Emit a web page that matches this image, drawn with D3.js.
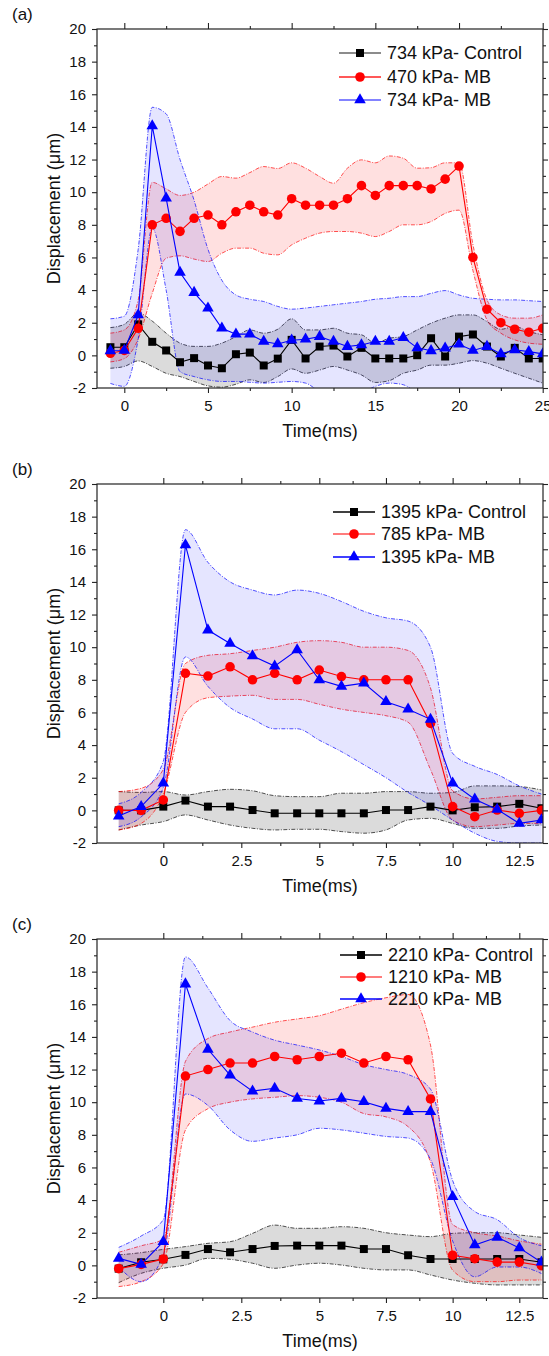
<!DOCTYPE html>
<html>
<head>
<meta charset="utf-8">
<script src="https://cdn.jsdelivr.net/npm/d3@7"></script>
<style>
  body { margin: 0; background: #fff; }
  svg text { font-family: "Liberation Sans", Arial, sans-serif; fill: #111; }
</style>
</head>
<body>
<svg id="chart" width="549" height="1356"></svg>
<script>
// ---------- data ----------
const timesA = [-0.83, 0, 0.83, 1.67, 2.5, 3.33, 4.17, 5, 5.83, 6.67, 7.5, 8.33, 9.17, 10, 10.83, 11.67,
  12.5, 13.33, 14.17, 15, 15.83, 16.67, 17.5, 18.33, 19.17, 20, 20.83, 21.67, 22.5, 23.33, 24.17, 25];
const ctrlA   = [0.5, 0.5, 1.9, 0.83, 0.3, -0.42, -0.17, -0.62, -0.79, 0.07, 0.17, -0.62, -0.2, 0.95, -0.19, 0.54,
  0.6, -0.07, 0.46, -0.19, -0.19, -0.19, 0.01, 1.05, -0.07, 1.15, 1.28, 0.54, -0.07, 0.46, -0.19, -0.19];
const ctrlAHi = [1.7, 1.9, 2.6, 2.1, 1.36, 0.75, 0.55, 0.55, 0.75, 1.15, 1.56, 1.36, 1.6, 2.24, 1.56, 1.56,
  1.66, 1.36, 1.26, 0.75, 1.05, 1.15, 1.56, 1.97, 2.28, 2.48, 2.48, 2.07, 1.6, 1.77, 1.46, 1.26];
const ctrlALo = [-0.79, -0.68, -0.34, -0.68, -1.1, -1.3, -1.6, -1.87, -1.95, -1.77, -1.5, -1.66, -1.3, -0.83, -1.1, -0.9,
  -0.68, -0.9, -1.2, -1.66, -1.55, -1.1, -0.9, -0.6, -0.6, -0.48, -0.32, -0.48, -0.79, -1.1, -1.4, -1.7];
const mbLowA   = [0.13, 0.3, 1.66, 8.0, 8.4, 7.6, 8.4, 8.6, 8.0, 8.8, 9.2, 8.8, 8.6, 9.6, 9.2, 9.2,
  9.2, 9.6, 10.4, 9.8, 10.4, 10.4, 10.4, 10.2, 10.8, 11.6, 6.0, 2.83, 2.0, 1.6, 1.42, 1.66];
const mbLowAHi = [1.36, 1.56, 3.4, 10.6, 10.2, 9.8, 10.0, 10.5, 10.96, 10.86, 11.2, 11.57, 11.45, 11.8, 11.47, 10.96,
  10.55, 11.47, 11.98, 11.8, 12.22, 12.08, 11.47, 11.5, 11.8, 11.8, 6.8, 3.4, 2.48, 2.28, 2.28, 2.48];
const mbLowALo = [-0.4, -0.2, 1.0, 3.8, 5.95, 6.1, 5.9, 5.75, 6.26, 6.57, 6.57, 6.26, 6.16, 6.77, 7.18, 7.49,
  7.59, 7.59, 7.49, 7.28, 7.59, 8.0, 8.0, 8.2, 8.7, 8.9, 5.2, 2.17, 1.36, 0.95, 0.75, 0.68];
const mbHighA   = [0.28, 0.3, 2.48, 14.06, 9.63, 5.08, 3.85, 2.89, 1.66, 1.3, 1.3, 0.85, 0.7, 0.93, 0.99, 1.15,
  0.85, 0.54, 0.64, 0.85, 0.85, 1.09, 0.46, 0.28, 0.44, 0.68, 0.3, 0.54, 0.09, 0.34, 0.23, 0.09];
const mbHighAHi = [2.24, 2.4, 6.5, 15.2, 14.8, 12.0, 9.5, 6.5, 4.6, 3.7, 3.44, 3.3, 3.0, 2.83, 2.9, 3.0,
  3.1, 3.2, 3.3, 3.44, 3.5, 3.6, 3.6, 3.8, 3.97, 3.7, 3.5, 3.44, 3.4, 3.4, 3.35, 3.3];
const mbHighALo = [-1.72, -1.9, 1.0, 7.8, 4.0, -1.0, -1.3, -1.5, -1.6, -1.6, -1.65, -1.7, -1.65, -1.6, -1.7, -2.2,
  -2.4, -2.5, -2.3, -1.9, -1.7, -1.8, -2.3, -2.6, -2.6, -2.6, -2.6, -2.6, -2.6, -2.6, -2.6, -2.6];

const timesBC = [-1.43, -0.71, 0, 0.71, 1.43, 2.14, 2.86, 3.57, 4.29, 5, 5.83, 6.67, 7.5, 8.33, 9.17, 10,
  10.83, 11.67, 12.5, 13.33];

const ctrlB   = [0, 0, 0.23, 0.6, 0.23, 0.23, 0.02, -0.18, -0.18, -0.18, -0.18, -0.18, 0.02, 0.02, 0.23, 0,
  0.19, 0.23, 0.4, 0.13];
const ctrlBHi = [1.15, 1.1, 1.15, 0.94, 1.15, 1.29, 1.2, 0.9, 0.84, 0.84, 1.05, 1.05, 1.15, 1.15, 1.05, 1.1,
  1.5, 1.5, 1.46, 1.25];
const ctrlBLo = [-1.2, -0.9, -0.69, -0.28, -0.59, -0.9, -1.1, -1.2, -1.16, -1.16, -1.3, -1.4, -1.2, -0.59, -0.49, -0.8,
  -1.1, -1.1, -0.96, -0.9];
const mbLowB   = [0, 0, 0.64, 8.4, 8.23, 8.8, 8.0, 8.4, 8.0, 8.6, 8.2, 8.0, 8.0, 8.0, 5.33, 0.23,
  -0.39, 0.02, -0.18, 0];
const mbLowBHi = [1.15, 1.35, 2.5, 9.0, 9.5, 9.6, 9.8, 10.0, 10.3, 10.4, 10.3, 10.0, 10.0, 9.8, 7.5, 1.2,
  0.7, 0.8, 0.9, 0.9];
const mbLowBLo = [-1.2, -0.8, 1.0, 6.0, 6.9, 7.0, 7.05, 6.8, 6.8, 6.5, 6.2, 6.0, 5.8, 5.4, 2.5, -0.6,
  -1.0, -0.9, -0.8, -0.8];
const mbHighB   = [-0.35, 0.23, 1.66, 16.26, 11.05, 10.23, 9.46, 8.84, 9.83, 8.0, 7.6, 7.8, 6.66, 6.2, 5.58, 1.66,
  0.68, 0.06, -0.8, -0.59];
const mbHighBHi = [0.4, 1.1, 3.0, 17.2, 15.2, 14.0, 13.5, 13.2, 13.5, 13.3, 12.8, 12.2, 11.8, 11.6, 10.0, 3.5,
  2.7, 2.2, 1.5, 1.0];
const mbHighBLo = [-1.0, -0.4, 1.4, 9.4, 7.6, 6.3, 5.6, 5.0, 5.0, 4.3, 3.6, 2.8, 2.0, 1.1, 0.3, -0.6,
  -1.4, -1.9, -2.0, -2.0];

const ctrlC   = [-0.2, 0.19, 0.37, 0.64, 1.0, 0.8, 1.0, 1.19, 1.21, 1.21, 1.21, 1.0, 1.0, 0.62, 0.39, 0.39,
  0.39, 0.39, 0.39, 0.19];
const ctrlCHi = [0.64, 0.78, 0.98, 1.15, 1.35, 1.45, 1.96, 2.47, 2.27, 2.27, 2.37, 2.27, 2.0, 1.86, 1.76, 1.96,
  2.0, 2.0, 1.86, 1.72];
const ctrlCLo = [-1.06, -0.49, -0.18, 0.02, 0.43, 0.37, 0.13, -0.18, 0.02, 0.13, 0.02, -0.18, -0.28, -0.28, -0.59, -0.9,
  -1.1, -1.2, -1.2, -1.2];
const mbLowC   = [-0.2, 0.06, 0.39, 11.6, 12.0, 12.4, 12.4, 12.8, 12.6, 12.8, 13.0, 12.4, 12.8, 12.6, 10.2, 0.62,
  0.41, 0.2, 0.2, -0.02];
const mbLowCHi = [0.8, 1.2, 1.6, 12.5, 13.9, 14.3, 14.6, 14.9, 15.1, 15.3, 15.7, 16.1, 16.4, 16.6, 13.5, 2.5,
  2.0, 1.8, 1.5, 1.3];
const mbLowCLo = [-1.3, -1.0, 0.1, 8.3, 9.6, 10.0, 10.2, 10.3, 10.4, 10.3, 10.0, 9.3, 9.1, 8.5, 6.3, -0.3,
  -1.0, -1.0, -0.9, -0.9];
const mbHighC   = [0.43, 0.06, 1.45, 17.24, 13.24, 11.66, 10.68, 10.85, 10.23, 10.07, 10.23, 10.03, 9.62, 9.42, 9.42, 4.21,
  1.25, 1.72, 1.07, 0.19];
const mbHighCHi = [1.1, 1.8, 2.8, 18.9, 17.0, 15.0, 14.3, 13.8, 13.5, 13.2, 12.8, 12.3, 12.0, 11.7, 10.8, 5.2,
  3.3, 2.8, 1.7, 1.2];
const mbHighCLo = [-0.1, -1.0, 0.6, 10.5, 9.8, 8.3, 7.6, 7.8, 8.0, 8.4, 8.3, 8.1, 7.9, 7.8, 6.5, 1.5,
  -0.7, -0.1, -0.1, -0.5];

const legendA = ["734 kPa- Control", "470 kPa- MB", "734 kPa- MB"];
const legendB = ["1395 kPa- Control", "785 kPa- MB", "1395 kPa- MB"];
const legendC = ["2210 kPa- Control", "1210 kPa- MB", "2210 kPa- MB"];

const xTicksA = [0, 5, 10, 15, 20, 25];
const xMinorA = [2.5, 7.5, 12.5, 17.5, 22.5];
const xTicksBC = [0, 2.5, 5, 7.5, 10, 12.5];
const xMinorBC = [1.25, 3.75, 6.25, 8.75, 11.25];
const yTicks = [-2, 0, 2, 4, 6, 8, 10, 12, 14, 16, 18, 20];
const yMinor = [-1, 1, 3, 5, 7, 9, 11, 13, 15, 17, 19];

// ---------- styles ----------
const styles = [
  { color: "#000", band: "rgba(0,0,0,0.14)", symbol: d3.symbolSquare, size: 64 },
  { color: "#ff0000", band: "rgba(255,0,0,0.12)", symbol: d3.symbolCircle, size: 72 },
  { color: "#0000ff", band: "rgba(0,0,255,0.10)", symbol: d3.symbolTriangle, size: 58 },
];

const plotLeft = 97, plotRight = 543;

const panels = [
  {
    tag: "(a)", top: 29, bottom: 388, times: timesA,
    xDomain: [0, 25], xRange: [124.3, 542.7], xTicks: xTicksA, xMinor: xMinorA,
    legend: legendA, legendX: 339, legendY: [53, 77, 100], legendLines: ["#666", "#ff2020", "#5a5aff"],
    series: [[ctrlA, ctrlAHi, ctrlALo], [mbLowA, mbLowAHi, mbLowALo], [mbHighA, mbHighAHi, mbHighALo]],
  },
  {
    tag: "(b)", top: 484, bottom: 843, times: timesBC,
    xDomain: [0, 5, 12.5], xRange: [163.3, 319.3, 519.3], xTicks: xTicksBC, xMinor: xMinorBC,
    legend: legendB, legendX: 333, legendY: [512, 534, 557], legendLines: ["#000", "#ff5050", "#0000ff"],
    series: [[ctrlB, ctrlBHi, ctrlBLo], [mbLowB, mbLowBHi, mbLowBLo], [mbHighB, mbHighBHi, mbHighBLo]],
  },
  {
    tag: "(c)", top: 939, bottom: 1298, times: timesBC,
    xDomain: [0, 5, 12.5], xRange: [163.3, 319.3, 519.3], xTicks: xTicksBC, xMinor: xMinorBC,
    legend: legendC, legendX: 340, legendY: [955, 977, 999], legendLines: ["#000", "#ff5050", "#0000ff"],
    series: [[ctrlC, ctrlCHi, ctrlCLo], [mbLowC, mbLowCHi, mbLowCLo], [mbHighC, mbHighCHi, mbHighCLo]],
  },
];

const svg = d3.select("#chart");

panels.forEach((p, pi) => {
  const x = d3.scaleLinear().domain(p.xDomain).range(p.xRange);
  const y = d3.scaleLinear().domain([-2, 20]).range([p.bottom, p.top]);
  const g = svg.append("g");

  const clipId = "clip" + pi;
  g.append("clipPath").attr("id", clipId)
    .append("rect")
    .attr("x", plotLeft).attr("y", p.top)
    .attr("width", plotRight - plotLeft).attr("height", p.bottom - p.top);

  const plot = g.append("g").attr("clip-path", `url(#${clipId})`);

  // bands (mean +/- sd, smoothed)
  p.series.forEach(([vals, hi, lo], si) => {
    const st = styles[si];
    const pts = p.times.map((t, i) => ({ t, hi: hi[i], lo: lo[i] }));
    const area = d3.area().curve(d3.curveMonotoneX)
      .x((d) => x(d.t)).y0((d) => y(d.lo)).y1((d) => y(d.hi));
    plot.append("path").attr("d", area(pts)).attr("fill", st.band);
    ["hi", "lo"].forEach((k) => {
      const edge = d3.line().curve(d3.curveMonotoneX).x((d) => x(d.t)).y((d) => y(d[k]));
      plot.append("path").attr("d", edge(pts))
        .attr("fill", "none").attr("stroke", st.color)
        .attr("stroke-width", 0.8).attr("stroke-dasharray", "4,1.5,1,1.5")
        .attr("opacity", 0.85);
    });
  });

  // lines + markers
  p.series.forEach(([vals], si) => {
    const st = styles[si];
    const pts = p.times.map((t, i) => ({ t, v: vals[i] }));
    const line = d3.line().x((d) => x(d.t)).y((d) => y(d.v));
    plot.append("path").attr("d", line(pts))
      .attr("fill", "none").attr("stroke", st.color).attr("stroke-width", 1.1);
    plot.selectAll(null).data(pts).join("path")
      .attr("d", d3.symbol().type(st.symbol).size(st.size))
      .attr("transform", (d) => `translate(${x(d.t)},${y(d.v)})`)
      .attr("fill", st.color);
  });

  // frame
  g.append("rect")
    .attr("x", plotLeft).attr("y", p.top)
    .attr("width", plotRight - plotLeft).attr("height", p.bottom - p.top)
    .attr("fill", "none").attr("stroke", "#222").attr("stroke-width", 1.2);

  // axes, ticks outward on all four sides
  const fmt = (d) => String(d);
  const addAxis = (axis, transform) => {
    const a = g.append("g").attr("transform", transform).call(axis);
    a.select(".domain").remove();
    a.selectAll("line").attr("stroke", "#222").attr("stroke-width", 1.1);
    return a;
  };
  const yl = addAxis(d3.axisLeft(y).tickValues(yTicks).tickSize(5).tickPadding(6).tickFormat(fmt), `translate(${plotLeft},0)`);
  yl.selectAll("text").attr("font-size", 15).attr("fill", "#111");
  addAxis(d3.axisLeft(y).tickValues(yMinor).tickSize(3).tickFormat(""), `translate(${plotLeft},0)`);
  addAxis(d3.axisRight(y).tickValues(yTicks).tickSize(5).tickFormat(""), `translate(${plotRight},0)`);
  addAxis(d3.axisRight(y).tickValues(yMinor).tickSize(3).tickFormat(""), `translate(${plotRight},0)`);

  const xb = addAxis(d3.axisBottom(x).tickValues(p.xTicks).tickSize(5).tickPadding(7).tickFormat(fmt), `translate(0,${p.bottom})`);
  xb.selectAll("text").attr("font-size", 15).attr("fill", "#111");
  addAxis(d3.axisBottom(x).tickValues(p.xMinor).tickSize(3).tickFormat(""), `translate(0,${p.bottom})`);
  addAxis(d3.axisTop(x).tickValues(p.xTicks).tickSize(6).tickFormat(""), `translate(0,${p.top})`);
  addAxis(d3.axisTop(x).tickValues(p.xMinor).tickSize(3).tickFormat(""), `translate(0,${p.top})`);

  // titles
  g.append("text").attr("x", 12).attr("y", p.top - 9).attr("font-size", 17).text(p.tag);
  g.append("text")
    .attr("transform", `translate(60,${(p.top + p.bottom) / 2}) rotate(-90)`)
    .attr("text-anchor", "middle").attr("font-size", 18)
    .text("Displacement (\u03bcm)");
  g.append("text").attr("x", 320).attr("y", p.bottom + 49)
    .attr("text-anchor", "middle").attr("font-size", 18).text("Time(ms)");

  // legend
  p.legend.forEach((label, li) => {
    const st = styles[li];
    const ly = p.legendY[li];
    const lg = g.append("g").attr("transform", `translate(${p.legendX},${ly})`);
    lg.append("line").attr("x1", 0).attr("x2", 42)
      .attr("stroke", p.legendLines[li]).attr("stroke-width", 1.4);
    lg.append("path").attr("d", d3.symbol().type(st.symbol).size(st.size)())
      .attr("transform", "translate(21,0)").attr("fill", st.color);
    lg.append("text").attr("x", 48).attr("dy", "0.35em").attr("font-size", 18).text(label);
  });
});
</script>
</body>
</html>
